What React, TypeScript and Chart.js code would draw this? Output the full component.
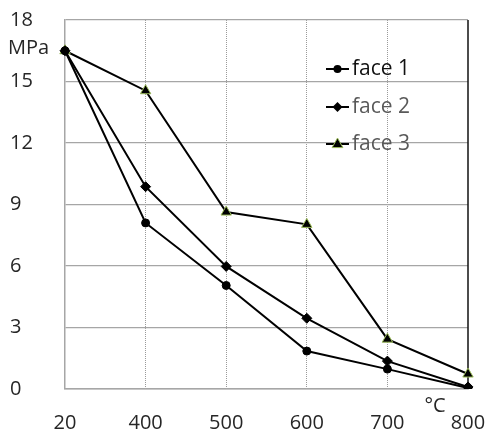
import React, { useEffect, useRef } from "react";
import { Chart, registerables } from "chart.js";

Chart.register(...registerables);

const temps = ["20", "400", "500", "600", "700", "800"];
const face1 = [16.5, 8.1, 5.05, 1.85, 0.97, 0.05];
const face2 = [16.5, 9.87, 5.98, 3.45, 1.36, 0.1];
const face3 = [16.5, 14.55, 8.63, 8.03, 2.43, 0.73];
const seriesNames = ["face 1", "face 2", "face 3"];
const legendTextColors = ["#111111", "#595959", "#595959"];
const yUnit = "MPa";
const xUnit = "°C";

const FONT = "'Open Sans', 'Noto Sans', sans-serif";

function drawMarker(ctx: CanvasRenderingContext2D, style: string, x: number, y: number) {
  ctx.save();
  ctx.fillStyle = "#000";
  ctx.beginPath();
  if (style === "circle") {
    ctx.arc(x, y, 4, 0, Math.PI * 2);
    ctx.fill();
  } else if (style === "rectRot") {
    const r = 5;
    ctx.moveTo(x, y - r);
    ctx.lineTo(x + r, y);
    ctx.lineTo(x, y + r);
    ctx.lineTo(x - r, y);
    ctx.closePath();
    ctx.fill();
  } else {
    const r = 6;
    ctx.moveTo(x, y - r);
    ctx.lineTo(x + r * 0.9, y + r * 0.6);
    ctx.lineTo(x - r * 0.9, y + r * 0.6);
    ctx.closePath();
    ctx.fill();
    ctx.strokeStyle = "#9bbb59";
    ctx.lineWidth = 1;
    ctx.stroke();
  }
  ctx.restore();
}

const borderPlugin = {
  id: "rightBorder",
  beforeDatasetsDraw(chart: any) {
    const { ctx } = chart;
    const xs = chart.scales.x;
    const ys = chart.scales.y;
    const xr = xs.getPixelForValue(temps.length - 1);
    ctx.save();
    ctx.strokeStyle = "#111";
    ctx.lineWidth = 1.5;
    ctx.beginPath();
    ctx.moveTo(xr, ys.getPixelForValue(ys.max));
    ctx.lineTo(xr, ys.getPixelForValue(ys.min));
    ctx.stroke();
    ctx.restore();
  },
};

const extrasPlugin = {
  id: "extras",
  afterDraw(chart: any) {
    const { ctx, chartArea } = chart;
    ctx.save();
    ctx.font = `20px ${FONT}`;
    ctx.fillStyle = "#262626";
    ctx.textBaseline = "middle";
    ctx.textAlign = "left";
    ctx.fillText(yUnit, 8, chart.scales.y.getPixelForValue(16.6));
    ctx.textAlign = "center";
    ctx.fillText(xUnit, chartArea.right - 33, chartArea.bottom + 17);
    const styles = ["circle", "rectRot", "triangle"];
    const x0 = 326;
    const rows = [69, 107, 144];
    seriesNames.forEach((name, i) => {
      const y = rows[i];
      ctx.strokeStyle = "#000";
      ctx.lineWidth = 2;
      ctx.beginPath();
      ctx.moveTo(x0, y);
      ctx.lineTo(x0 + 23, y);
      ctx.stroke();
      drawMarker(ctx, styles[i], x0 + 11.5, y);
      ctx.fillStyle = legendTextColors[i];
      ctx.textAlign = "left";
      ctx.font = `21px ${FONT}`;
      ctx.fillText(name, x0 + 26, y);
    });
    ctx.restore();
  },
};

export default function App() {
  const ref = useRef<HTMLCanvasElement | null>(null);
  useEffect(() => {
    if (!ref.current) return;
    const mk = (data: number[], style: string, radius: number, border: string) => ({
      label: "",
      data,
      borderColor: "#000",
      borderWidth: 2,
      backgroundColor: "#000",
      pointStyle: style,
      pointRadius: radius,
      pointBorderColor: border,
      pointBackgroundColor: "#000",
      pointBorderWidth: 1,
      tension: 0,
    });
    const chart = new Chart(ref.current, {
      type: "line",
      data: {
        labels: temps,
        datasets: [
          { ...mk(face1, "circle", 4, "#000"), label: seriesNames[0] },
          { ...mk(face2, "rectRot", 5, "#000"), label: seriesNames[1] },
          { ...mk(face3, "triangle", 6, "#9bbb59"), label: seriesNames[2] },
        ],
      },
      options: {
        animation: false,
        responsive: true,
        maintainAspectRatio: false,
        layout: { padding: { left: 10, top: 20, right: 20, bottom: 0 } },
        plugins: { legend: { display: false }, tooltip: { enabled: false } },
        scales: {
          x: {
            type: "category",
            offset: false,
            grid: {
              color: (c: any) => (c.index === 0 || c.index === temps.length - 1 ? "rgba(0,0,0,0)" : "#9a9a9a"),
              lineWidth: 1,
              drawTicks: false,
            },
            border: { display: true, color: "#a6a6a6", width: 1.5, dash: [1, 1] },
            ticks: { color: "#262626", font: { family: FONT, size: 20 }, padding: 22, maxRotation: 0 },
            afterFit: (s: any) => {
              s.height = 44;
              s.paddingLeft = 0;
              s.paddingRight = 0;
            },
          },
          y: {
            min: 0,
            max: 18,
            ticks: {
              stepSize: 3,
              color: "#262626",
              font: { family: FONT, size: 20 },
              crossAlign: "far",
            },
            grid: { color: "#a6a6a6", lineWidth: 1.3, drawTicks: false },
            border: { display: true, color: "#a6a6a6", width: 1.5 },
            afterFit: (s: any) => {
              s.width = 55;
              s.paddingTop = 0;
              s.paddingBottom = 0;
            },
          },
        },
      } as any,
      plugins: [borderPlugin, extrasPlugin],
    });
    return () => chart.destroy();
  }, []);
  return (
    <div style={{ position: "absolute", left: 0, top: 0, width: 488, height: 433, background: "#fff" }}>
      <canvas ref={ref} />
    </div>
  );
}
